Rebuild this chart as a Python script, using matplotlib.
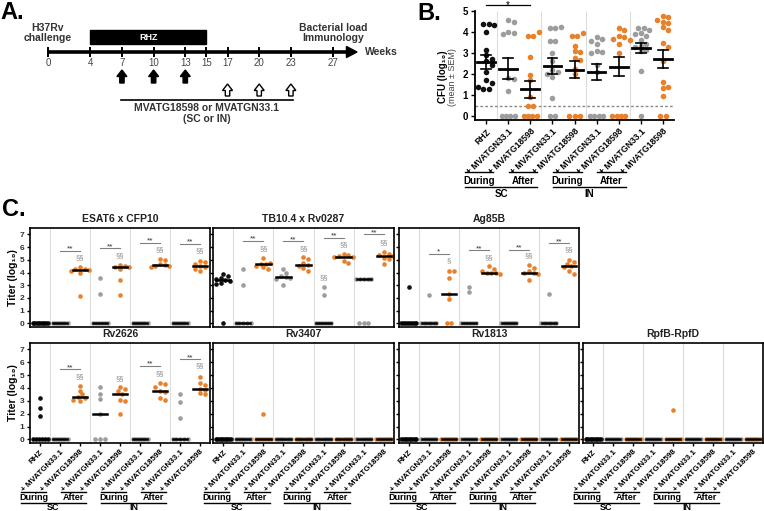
import numpy as np
import matplotlib
matplotlib.use('Agg')
import matplotlib.pyplot as plt
from matplotlib.patches import Polygon, Rectangle
from matplotlib.transforms import blended_transform_factory

plt.rcParams['font.family'] = ['Liberation Sans', 'DejaVu Sans']

W, H = 764, 511
ORANGE = '#E8812C'
GREY = '#9D9D9D'
BLACK = '#111111'

# ---- panel A: schedule
weeks = [0, 4, 7, 10, 13, 15, 17, 20, 23, 27]
rhz_weeks = (4, 15)
during_weeks = [7, 10, 13]
after_weeks = [17, 20, 23]

# ---- panel B: lung CFU (log10)
cfu_labels = ['RHZ', '+ MVATGN33.1', '+ MVATG18598', '+ MVATGN33.1', '+ MVATG18598',
              '+ MVATGN33.1', '+ MVATG18598', '+ MVATGN33.1', '+ MVATG18598']
cfu_values = [
    [4.4, 4.4, 4.35, 4.0, 3.15, 2.9, 2.7, 2.6, 2.45, 2.1, 1.7, 1.55, 1.4, 1.3, 1.3],
    [4.55, 4.5, 4.0, 3.95, 3.9, 1.8, 1.75, 1.2, 0, 0, 0, 0],
    [4.0, 3.8, 3.8, 2.8, 1.95, 1.7, 0.9, 0.5, 0.5, 0, 0, 0, 0],
    [4.25, 4.2, 4.2, 3.55, 3.55, 3.0, 2.6, 2.2, 2.1, 2.0, 1.85, 0.85, 0, 0],
    [3.95, 3.8, 3.8, 3.35, 3.1, 3.05, 2.75, 2.65, 2.25, 2.0, 0, 0, 0],
    [3.75, 3.65, 3.55, 3.45, 3.1, 3.05, 3.0, 2.45, 2.1, 0, 0, 0, 0],
    [4.2, 4.1, 3.8, 3.75, 3.65, 3.6, 3.45, 3.0, 0, 0, 0, 0],
    [4.2, 4.2, 4.1, 3.95, 3.9, 3.8, 3.6, 3.45, 3.35, 3.3, 3.15, 3.1, 2.15, 0],
    [4.75, 4.7, 4.55, 4.5, 4.45, 4.25, 4.1, 3.5, 3.3, 2.6, 1.6, 1.4, 1.35, 0.95, 0, 0],
]
cfu_mean = [2.57, 2.25, 1.28, 2.38, 2.2, 2.1, 2.35, 3.25, 2.7]
cfu_sem = [0.32, 0.5, 0.4, 0.37, 0.4, 0.4, 0.45, 0.23, 0.43]
cfu_limit = 0.5

group_colors = [BLACK, GREY, ORANGE, GREY, ORANGE, GREY, ORANGE, GREY, ORANGE]

# ---- panel C: antibody titers (log10)
z8 = [0] * 8
esat6 = [[0] * 10, z8, [4.4, 4.3, 4.25, 4.2, 4.1, 4.0, 2.15],
         [3.55, 2.3, 0, 0, 0, 0, 0, 0], [4.6, 4.5, 4.45, 4.4, 4.25, 3.45, 2.2],
         z8, [5.05, 4.95, 4.7, 4.6, 4.55, 4.5, 4.4],
         z8, [4.9, 4.8, 4.7, 4.5, 4.4, 4.25, 4.15]]
tb104 = [[3.9, 3.75, 3.6, 3.5, 3.4, 3.3, 3.2, 3.1, 0], [4.25, 3.0, 0, 0, 0, 0, 0],
         [5.15, 4.75, 4.7, 4.7, 4.55, 4.4, 4.25],
         [4.3, 4.0, 3.75, 3.65, 3.55, 3.5, 3.0], [5.2, 5.1, 4.75, 4.6, 4.5, 4.35, 4.1],
         [2.85, 2.25, 0, 0, 0, 0, 0, 0], [5.45, 5.35, 5.3, 5.25, 5.2, 4.9, 4.75],
         [3.5, 3.5, 3.5, 3.5, 3.5, 0, 0, 0], [5.6, 5.45, 5.4, 5.3, 5.15, 5.05, 4.65]]
ag85b = [[2.85] + [0] * 9, [2.2, 0, 0, 0, 0, 0, 0, 0], [4.15, 4.1, 3.55, 2.3, 1.95, 0, 0],
         [2.9, 2.5, 0, 0, 0, 0, 0, 0], [4.5, 4.3, 4.1, 4.0, 4.0, 3.95, 3.9],
         z8, [4.6, 4.35, 4.1, 4.0, 3.95, 3.9, 3.4],
         [2.3, 0, 0, 0, 0, 0, 0, 0], [5.0, 4.85, 4.7, 4.55, 4.4, 4.1, 3.9]]
rv2626 = [[3.25, 2.45, 1.85, 0, 0, 0, 0, 0, 0], z8, [4.15, 3.8, 3.5, 3.3, 3.2, 3.05, 2.95],
          [4.05, 3.55, 3.15, 1.95, 0, 0, 0], [4.05, 3.95, 3.75, 3.55, 3.05, 3.0, 2.0],
          z8, [4.35, 4.3, 4.1, 3.8, 3.7, 3.2, 3.1],
          [3.55, 2.9, 1.65, 0, 0, 0, 0, 0], [4.85, 4.35, 4.2, 3.95, 3.85, 3.6, 3.5]]
rv3407 = [[0] * 10, z8, [2.0, 0, 0, 0, 0, 0, 0], z8, z8, z8, z8, z8, z8]
rv1813 = [[0] * 10, z8, z8, z8, z8, z8, z8, z8, z8]
rpfbd = [[0] * 10, z8, z8, z8, [2.3, 0, 0, 0, 0, 0, 0], z8, z8, z8, z8]

titer_titles = ['ESAT6 x CFP10', 'TB10.4 x Rv0287', 'Ag85B', 'Rv2626', 'Rv3407', 'Rv1813', 'RpfB-RpfD']
titer_data = [esat6, tb104, ag85b, rv2626, rv3407, rv1813, rpfbd]
# significance vs RHZ-alone (pair, level, mark) and vs control vector (group, level, mark)
titer_stars = [
    [(1, 2, 5.69, '**'), (3, 4, 5.9, '**'), (5, 6, 6.34, '**'), (7, 8, 6.27, '**')],
    [(1, 2, 6.47, '**'), (3, 4, 6.45, '**'), (5, 6, 6.75, '**'), (7, 8, 7.0, '**')],
    [(1, 2, 5.47, '*'), (3, 4, 5.74, '**'), (5, 6, 5.8, '**'), (7, 8, 6.3, '**')],
    [(1, 2, 5.44, '**'), (5, 6, 5.7, '**'), (7, 8, 6.22, '**')],
    [], [], [],
]
titer_sect = [
    [(2, 5.17, '§§'), (4, 5.3, '§§'), (6, 5.82, '§§'), (8, 5.69, '§§')],
    [(2, 5.9, '§§'), (4, 5.9, '§§'), (5, 3.6, '§§'), (6, 6.15, '§§'), (8, 6.35, '§§')],
    [(2, 4.9, '§'), (4, 5.2, '§§'), (6, 5.3, '§§'), (8, 5.77, '§§')],
    [(2, 4.87, '§§'), (4, 4.69, '§§'), (6, 5.13, '§§'), (8, 5.7, '§§')],
    [], [], [],
]

fig = plt.figure(figsize=(W / 100, H / 100), dpi=100)


def add_ax(x0, y0, x1, y1):
    return fig.add_axes([x0 / W, 1 - y1 / H, (x1 - x0) / W, (y1 - y0) / H])


def swarm(vals, xpx, ypx, d, maxw):
    # simple deterministic beeswarm, offsets returned in data units
    vals = np.asarray(vals, float)
    off = np.zeros(len(vals))
    placed = []
    uniq, counts = np.unique(vals, return_counts=True)
    for u, n in zip(uniq, counts):
        if n > 1:
            idx = np.where(vals == u)[0]
            step = min(d, maxw / (n - 1))
            o = (np.arange(n) - (n - 1) / 2) * step
            off[idx] = o
            placed += [(v, u * ypx) for v in o]
    for i in np.argsort(-vals):
        v = vals[i]
        if np.sum(vals == v) > 1:
            continue
        for k in range(60):
            c = ((k + 1) // 2) * (1 if k % 2 else -1) * d * 0.5
            if all(np.hypot(c - px, v * ypx - py) >= d * 0.95 for px, py in placed):
                break
        off[i] = c
        placed.append((c, v * ypx))
    return off / xpx


def brackets(ax, y_short, y_text, y_long, y_grp, fs):
    tr = blended_transform_factory(ax.transData, fig.transFigure)
    kw = dict(transform=tr, clip_on=False, color='k', lw=1)
    for first, name in [(1, 'SC'), (5, 'IN')]:
        for a, sub in [(first, 'During'), (first + 2, 'After')]:
            x0, x1 = a - 1.97, a + 1 - 1.68
            ax.plot([x0, x1], [1 - y_short / H] * 2, **kw)
            ax.text((x0 + x1) / 2, 1 - y_text / H, sub, transform=tr, ha='center', va='center',
                    fontsize=fs, fontweight='bold')
        x0, x1 = first - 1.97, first + 3 - 1.68
        ax.plot([x0, x1], [1 - y_long / H] * 2, **kw)
        ax.text((x0 + x1) / 2, 1 - y_grp / H, name, transform=tr, ha='center', va='center',
                fontsize=fs, fontweight='bold')


# ================= A =================
fig.text(0 / W, 1 - 1 / H, 'A.', fontsize=17, fontweight='bold', va='top')
axa = add_ax(0, 0, 400, 135)
pxw = 10.56
axa.set_xlim(-48 / pxw, (400 - 48) / pxw)
axa.set_ylim(135, 0)
axa.axis('off')
tip = (357 - 48) / pxw
axa.plot([0, tip - 0.8], [52, 52], color='k', lw=2.6, solid_capstyle='butt')
axa.add_patch(Polygon([(tip - 1.0, 46.5), (tip, 52), (tip - 1.0, 57.5)], color='k'))
axa.vlines(weeks, 47, 57, color='k', lw=1.4)
for w in weeks:
    axa.text(w, 62.5, str(w), ha='center', va='center', fontsize=7, color='#444')
axa.add_patch(Rectangle((rhz_weeks[0], 30), rhz_weeks[1] - rhz_weeks[0], 14, color='k'))
axa.text(sum(rhz_weeks) / 2, 37, 'RHZ', color='white', ha='center', va='center',
         fontsize=6.5, fontweight='bold')
axa.text(0, 33, 'H37Rv\nchallenge', ha='center', va='center', fontsize=7.5,
         fontweight='bold', color='#333', linespacing=1.1)
axa.text(27, 33, 'Bacterial load\nImmunology', ha='center', va='center', fontsize=7.5,
         fontweight='bold', color='#333', linespacing=1.1)
axa.text((365 - 48) / pxw, 52, 'Weeks', ha='left', va='center', fontsize=7.5,
         fontweight='bold', color='#333')


def up_arrow(x, ytip, ybot, filled):
    sh, hh, hl = 2.2 / pxw, 5.0 / pxw, 6.5
    verts = [(x - sh, ybot), (x - sh, ytip + hl), (x - hh, ytip + hl), (x, ytip),
             (x + hh, ytip + hl), (x + sh, ytip + hl), (x + sh, ybot)]
    axa.add_patch(Polygon(verts, closed=True, facecolor='k' if filled else 'white',
                          edgecolor='k', lw=1))


for w in during_weeks:
    up_arrow(w, 70, 83, True)
for w in after_weeks:
    up_arrow(w, 84, 96, False)
axa.plot([6.9, 23.2], [100, 100], color='k', lw=1.2)
axa.text(15.05, 108, 'MVATG18598 or MVATGN33.1', ha='center', va='center',
         fontsize=7.5, fontweight='bold', color='#333')
axa.text(15.05, 119, '(SC or IN)', ha='center', va='center', fontsize=7.5,
         fontweight='bold', color='#333')

# ================= B =================
fig.text(417 / W, 1 - 2 / H, 'B.', fontsize=17, fontweight='bold', va='top')
axb = add_ax(475, 11, 674, 120)
axb.set_xlim(-0.5, 8.5)
axb.set_ylim(-0.19, 5)
for s in ['top', 'right']:
    axb.spines[s].set_visible(False)
for s in ['left', 'bottom']:
    axb.spines[s].set_linewidth(1.3)
axb.vlines([0.5, 2.5, 4.5, 6.5], -0.19, 5, color='#dcdcdc', lw=0.8, zorder=0)
axb.axhline(cfu_limit, color='#8a8a8a', lw=1, ls=(0, (2, 1.5)), zorder=1)
for i, vals in enumerate(cfu_values):
    xo = swarm(vals, 22, 21, 5.5, 13)
    axb.scatter(i + xo, vals, s=16, color=group_colors[i], linewidths=0, zorder=2)
    m, e = cfu_mean[i], cfu_sem[i]
    axb.plot([i - 0.4, i + 0.4], [m, m], color='k', lw=2, zorder=3)
    axb.plot([i, i], [m - e, m + e], color='k', lw=1.2, zorder=3)
    axb.plot([i - 0.22, i + 0.22], [m + e, m + e], color='k', lw=1.2, zorder=3)
    axb.plot([i - 0.22, i + 0.22], [m - e, m - e], color='k', lw=1.2, zorder=3)
axb.plot([0, 2], [5.27, 5.27], color='k', lw=0.9, clip_on=False)
trb = blended_transform_factory(axb.transData, fig.transFigure)
axb.text(1, 1 - 0.3 / H, '*', transform=trb, ha='center', va='top', fontsize=7)
axb.set_yticks(range(6))
axb.set_yticklabels([str(v) for v in range(6)], fontsize=7, fontweight='bold')
axb.set_xticks(range(9))
axb.set_xticklabels(cfu_labels, rotation=45, ha='right', rotation_mode='anchor',
                    fontsize=6.2, fontweight='bold')
axb.tick_params(axis='both', length=3, width=1, pad=2)
fig.text(443 / W, 1 - 77 / H, 'CFU (log₁₀)', rotation=90, ha='center', va='center',
         fontsize=7, fontweight='bold')
fig.text(452.5 / W, 1 - 77 / H, '(mean ± SEM)', rotation=90, ha='center', va='center',
         fontsize=6.5, color='#444')
brackets(axb, 172, 180.5, 187, 194, 7)

# ================= C =================
fig.text(2 / W, 1 - 198 / H, 'C.', fontsize=17, fontweight='bold', va='top')
col_x = [(30, 210), (213, 394), (399, 579), (583, 763)]
row_y = [(228, 327), (343, 443)]
for p, (title, data) in enumerate(zip(titer_titles, titer_data)):
    row, col = (0, p) if p < 3 else (1, p - 3)
    x0, x1 = col_x[col]
    y0, y1 = row_y[row]
    ax = add_ax(x0, y0, x1, y1)
    ax.set_xlim(-0.5, 8.5)
    ax.set_ylim(-0.28, 7.5)
    ax.vlines([0.5, 2.5, 4.5, 6.5], -0.28, 7.5, color='#dcdcdc', lw=0.8, zorder=0)
    for i, vals in enumerate(data):
        xo = swarm(vals, 20, 12.8, 4.6, 15)
        ax.scatter(i + xo, vals, s=11, color=group_colors[i], linewidths=0, zorder=2)
        med = np.median(vals)
        ax.plot([i - 0.36, i + 0.36], [med, med], color='k', lw=1.8, zorder=3)
    for a, b, y, mark in titer_stars[p]:
        ax.plot([a, b], [y, y], color='#808080', lw=0.8, zorder=3)
        ax.text((a + b) / 2, y + 0.02, mark, ha='center', va='baseline', fontsize=6,
                color='#333')
    for g, y, mark in titer_sect[p]:
        ax.text(g, y, mark, ha='center', va='center', fontsize=5.5, color='#8a8a8a')
    for s in ax.spines.values():
        s.set_linewidth(1.2)
    ax.set_yticks(range(8))
    if col == 0:
        ax.set_yticklabels([str(v) for v in range(8)], fontsize=6, fontweight='bold',
                           color='#333')
        fig.text(13 / W, 1 - (y0 + y1) / 2 / H, 'Titer (log₁₀)', rotation=90,
                 ha='center', va='center', fontsize=7.5, fontweight='bold')
    else:
        ax.set_yticklabels([])
    ax.tick_params(axis='y', length=2.5, width=1, pad=1.5)
    ax.set_xticks(range(9))
    if row == 0:
        ax.tick_params(axis='x', length=0)
        ax.set_xticklabels([])
    else:
        ax.set_xticklabels(cfu_labels, rotation=45, ha='right', rotation_mode='anchor',
                           fontsize=5.8, fontweight='bold')
        ax.tick_params(axis='x', length=2, width=1, pad=2)
        brackets(ax, 492, 497.5, 503, 508, 6.5)
    fig.text((x0 + x1) / 2 / W, 1 - (y0 - 9) / H, title, ha='center', va='center',
             fontsize=7.5, fontweight='bold', color='#222')

fig.savefig('out.png', dpi=100)
